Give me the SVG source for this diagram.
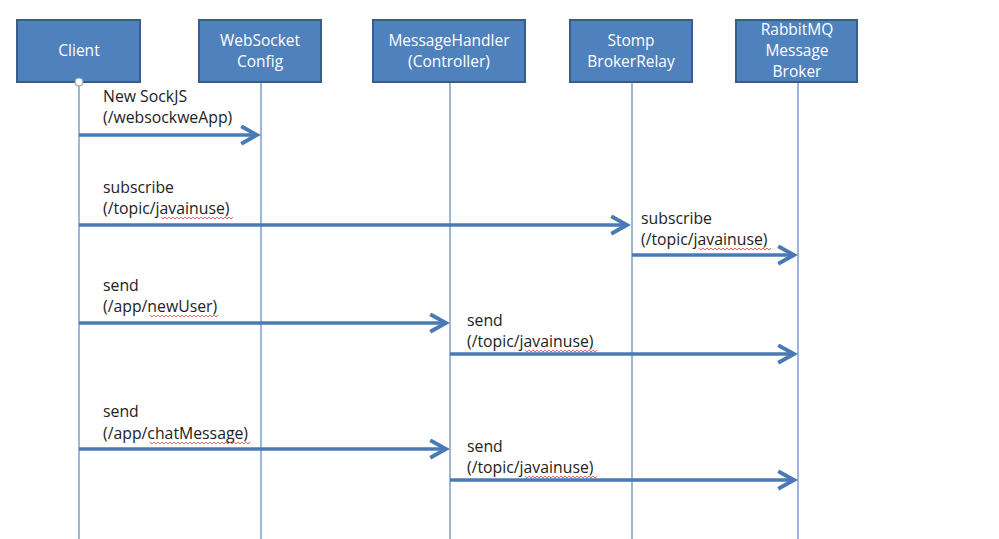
<svg xmlns="http://www.w3.org/2000/svg" width="999" height="539" viewBox="0 0 999 539">
<style>
.box{fill:#4f81bd;stroke:#385d8a;stroke-width:2}
.bt{fill:#fff;font-family:"Open Sans","Liberation Sans",sans-serif;font-size:15.5px;text-anchor:middle}
.life{stroke:#7f9fc9;stroke-width:1.5;fill:none}
.msg{stroke:#4a7ab5;stroke-width:3.5;fill:none;marker-end:url(#ah)}
.lt{fill:#222;font-family:"Open Sans","Liberation Sans",sans-serif;font-size:15.8px}
.sq{stroke:#e04040;stroke-width:0.8;fill:none}
</style>
<defs>
<marker id="ah" markerWidth="6" markerHeight="6" refX="5" refY="3" orient="auto" markerUnits="strokeWidth">
<path d="M0.5,0.5 L5,3 L0.5,5.5" fill="none" stroke="#4a7ab5" stroke-width="1.1"/>
</marker>
</defs>
<rect width="999" height="539" fill="#fff"/>
<g id="lifelines">
<line class="life" x1="79" y1="82" x2="79" y2="539"/>
<line class="life" x1="261" y1="82" x2="261" y2="539"/>
<line class="life" x1="450" y1="82" x2="450" y2="539"/>
<line class="life" x1="632" y1="82" x2="632" y2="539"/>
<line class="life" x1="798" y1="82" x2="798" y2="539"/>
</g>
<g id="client"><rect class="box" x="17" y="20" width="123" height="62"/><text class="bt" x="79" y="56">Client</text></g>
<g id="websocket"><rect class="box" x="199" y="20" width="122" height="62"/><text class="bt" x="260" y="46">WebSocket</text><text class="bt" x="260" y="67">Config</text></g>
<g id="handler"><rect class="box" x="373" y="20" width="152" height="62"/><text class="bt" x="449" y="46">MessageHandler</text><text class="bt" x="449" y="67">(Controller)</text></g>
<g id="relay"><rect class="box" x="570" y="20" width="122" height="62"/><text class="bt" x="631" y="46">Stomp</text><text class="bt" x="631" y="67">BrokerRelay</text></g>
<g id="rabbit"><rect class="box" x="736" y="20" width="121" height="62"/><text class="bt" x="797" y="35">RabbitMQ</text><text class="bt" x="797" y="56">Message</text><text class="bt" x="797" y="77">Broker</text></g>
<circle cx="79" cy="82" r="4" fill="#fff" stroke="#8899aa" stroke-width="1.2"/>
<g id="connectors">
<line class="msg" x1="79" y1="135" x2="257" y2="135"/>
<line class="msg" x1="79" y1="225" x2="627" y2="225"/>
<line class="msg" x1="632" y1="255" x2="794" y2="255"/>
<line class="msg" x1="79" y1="323" x2="446" y2="323"/>
<line class="msg" x1="450" y1="354" x2="794" y2="354"/>
<line class="msg" x1="79" y1="449" x2="446" y2="449"/>
<line class="msg" x1="450" y1="480" x2="794" y2="480"/>
</g>
<g id="labels">
<text class="lt" x="103" y="102">New SockJS</text>
<text class="lt" x="103" y="123">(/websockweApp)</text>
<text class="lt" x="103" y="193">subscribe</text>
<text class="lt" x="103" y="214">(/topic/javainuse)</text>
<text class="lt" x="641" y="224">subscribe</text>
<text class="lt" x="641" y="245">(/topic/javainuse)</text>
<text class="lt" x="103" y="291">send</text>
<text class="lt" x="103" y="312">(/app/newUser)</text>
<text class="lt" x="467" y="326">send</text>
<text class="lt" x="467" y="347">(/topic/javainuse)</text>
<text class="lt" x="103" y="417">send</text>
<text class="lt" x="103" y="439">(/app/chatMessage)</text>
<text class="lt" x="467" y="452">send</text>
<text class="lt" x="467" y="473">(/topic/javainuse)</text>
</g>
<g id="squiggles">
<path class="sq" d="M161,217 l2,2 l2,-2 l2,2 l2,-2 l2,2 l2,-2 l2,2 l2,-2 l2,2 l2,-2 l2,2 l2,-2 l2,2 l2,-2 l2,2 l2,-2 l2,2 l2,-2 l2,2 l2,-2 l2,2 l2,-2 l2,2 l2,-2 l2,2 l2,-2 l2,2 l2,-2 l2,2 l2,-2 l2,2 l2,-2 l2,2 l2,-2 l2,2 l2,-2"/>
<path class="sq" d="M699,248 l2,2 l2,-2 l2,2 l2,-2 l2,2 l2,-2 l2,2 l2,-2 l2,2 l2,-2 l2,2 l2,-2 l2,2 l2,-2 l2,2 l2,-2 l2,2 l2,-2 l2,2 l2,-2 l2,2 l2,-2 l2,2 l2,-2 l2,2 l2,-2 l2,2 l2,-2 l2,2 l2,-2 l2,2 l2,-2 l2,2 l2,-2 l2,2 l2,-2"/>
<path class="sq" d="M150,315 l2,2 l2,-2 l2,2 l2,-2 l2,2 l2,-2 l2,2 l2,-2 l2,2 l2,-2 l2,2 l2,-2 l2,2 l2,-2 l2,2 l2,-2 l2,2 l2,-2 l2,2 l2,-2 l2,2 l2,-2 l2,2 l2,-2 l2,2 l2,-2 l2,2 l2,-2 l2,2 l2,-2 l2,2 l2,-2 l2,2 l2,-2"/>
<path class="sq" d="M525,350 l2,2 l2,-2 l2,2 l2,-2 l2,2 l2,-2 l2,2 l2,-2 l2,2 l2,-2 l2,2 l2,-2 l2,2 l2,-2 l2,2 l2,-2 l2,2 l2,-2 l2,2 l2,-2 l2,2 l2,-2 l2,2 l2,-2 l2,2 l2,-2 l2,2 l2,-2 l2,2 l2,-2 l2,2 l2,-2 l2,2 l2,-2 l2,2 l2,-2"/>
<path class="sq" d="M150,442 l2,2 l2,-2 l2,2 l2,-2 l2,2 l2,-2 l2,2 l2,-2 l2,2 l2,-2 l2,2 l2,-2 l2,2 l2,-2 l2,2 l2,-2 l2,2 l2,-2 l2,2 l2,-2 l2,2 l2,-2 l2,2 l2,-2 l2,2 l2,-2 l2,2 l2,-2 l2,2 l2,-2 l2,2 l2,-2 l2,2 l2,-2 l2,2 l2,-2 l2,2 l2,-2 l2,2 l2,-2 l2,2 l2,-2 l2,2 l2,-2 l2,2 l2,-2 l2,2 l2,-2 l2,2 l2,-2"/>
<path class="sq" d="M525,476 l2,2 l2,-2 l2,2 l2,-2 l2,2 l2,-2 l2,2 l2,-2 l2,2 l2,-2 l2,2 l2,-2 l2,2 l2,-2 l2,2 l2,-2 l2,2 l2,-2 l2,2 l2,-2 l2,2 l2,-2 l2,2 l2,-2 l2,2 l2,-2 l2,2 l2,-2 l2,2 l2,-2 l2,2 l2,-2 l2,2 l2,-2 l2,2 l2,-2"/>
</g>
</svg>
